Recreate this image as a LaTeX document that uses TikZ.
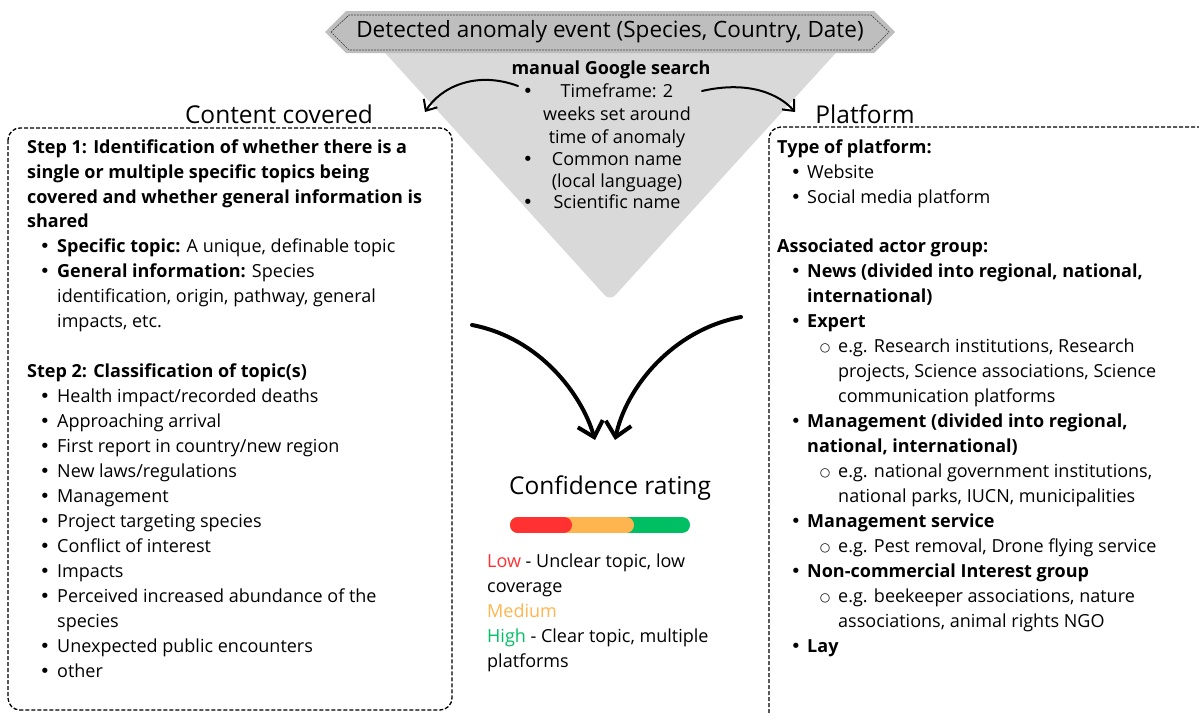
\documentclass[tikz,border=0pt]{standalone}
\usepackage{fontspec}
\setmainfont{Open Sans}
\newfontfamily\symfont{DejaVu Sans}
\usetikzlibrary{arrows.meta}

\definecolor{bannergray}{HTML}{BEBEBE}
\definecolor{funnelgray}{HTML}{D9D9D9}
\definecolor{lowred}{HTML}{FF3131}
\definecolor{medorange}{HTML}{FFB54F}
\definecolor{highgreen}{HTML}{00BF63}

\def\bodysize{\fontsize{18}{25}\selectfont}
\def\titlesize{\fontsize{24.5}{28}\selectfont}
\def\bannersize{\fontsize{22.5}{26}\selectfont}

\def\bannershape{(325,32) -- (346,11) -- (874,11) -- (895,32) -- (874,53) -- (346,53) -- cycle}
\def\bannerinner{(331,32) -- (349,15) -- (871,15) -- (889,32) -- (871,50) -- (349,50) -- cycle}

\tikzset{
  line/.style={anchor=base west, inner sep=0pt, font=\bodysize},
  mid/.style={anchor=base, inner sep=0pt, font=\bodysize},
  dot/.style={anchor=base, inner sep=0pt, font=\bodysize\symfont},
  title/.style={anchor=base, inner sep=0pt, font=\titlesize},
  dashbox/.style={draw, line width=1.3pt, rounded corners=12pt, dash pattern=on 4pt off 2pt},
  thinarrow/.style={-{Straight Barb[length=9pt,width=16pt,line width=2pt]}, line width=2pt, line cap=round},
  bigarrow/.style={-{Straight Barb[length=14pt,width=26pt,line width=4pt]}, line width=4pt, line cap=round},
  bar/.style={line width=16pt, line cap=round},
}

\begin{document}
\begin{tikzpicture}[x=1pt,y=-1pt]
  \useasboundingbox (0,0) rectangle (1199,712);
  \clip (0,0) rectangle (1199,712);

  % funnel and banner
  \fill[funnelgray, rounded corners=8pt] (378,45) -- (843,45) -- (610,301) -- cycle;
  \fill[bannergray] \bannershape;
  \draw[black!75, line width=0.6pt, dash pattern=on 2pt off 1pt] \bannerinner;
  \node[font=\bannersize, inner sep=0pt] (event) at (610,32) {Detected anomaly event (Species, Country, Date)};

  % search terms
  \node[mid] (search) at (611,74) {\textbf{manual Google search}};
  \node[mid] (tf1) at (617,97) {Timeframe: 2};
  \node[mid] (tf2) at (617,120) {weeks set around};
  \node[mid] (tf3) at (617,143) {time of anomaly};
  \node[mid] (cn1) at (617,165) {Common name};
  \node[mid] (cn2) at (617,187) {(local language)};
  \node[mid] (sn) at (617,208) {Scientific name};
  \node[dot] (b1) at (528,97) {•};
  \node[dot] (b2) at (528,165) {•};
  \node[dot] (b3) at (528,208) {•};

  % titles
  \node[title] (content) at (279,123) {Content covered};
  \node[title] (platform) at (865,123) {Platform};

  \coordinate (lstart) at (518,86);
  \coordinate (lend) at (425,112);
  \coordinate (rstart) at (702,91);
  \coordinate (rend) at (795,112);
  \draw[thinarrow] (lstart) .. controls (475,70) and (440,88) .. (lend);
  \draw[thinarrow] (rstart) .. controls (750,80) and (780,95) .. (rend);

  % boxes
  \draw[dashbox] (8,128) rectangle (452,710);
  \draw[dashbox] (769,127) rectangle (1215,730);

  % content covered
  \node[line] (s1a) at (27,153) {\textbf{Step 1: Identification of whether there is a}};
  \node[line] (s1b) at (27,178) {\textbf{single or multiple specific topics being}};
  \node[line] (s1c) at (27,203) {\textbf{covered and whether general information is}};
  \node[line] (s1d) at (27,227) {\textbf{shared}};
  \node[dot] (d1) at (45,252) {•};
  \node[line] (spec) at (57,252) {\textbf{Specific topic:} A unique, definable topic};
  \node[dot] (d2) at (45,277) {•};
  \node[line] (gen1) at (57,277) {\textbf{General information:} Species};
  \node[line] (gen2) at (57,302) {identification, origin, pathway, general};
  \node[line] (gen3) at (57,327) {impacts, etc.};
  \node[line] (s2) at (27,377) {\textbf{Step 2: Classification of topic(s)}};
  \foreach \txt [count=\i] in {Health impact/recorded deaths, Approaching arrival,
      First report in country/new region, New laws/regulations, Management,
      Project targeting species, Conflict of interest, Impacts,
      Perceived increased abundance of the}
    \node[line] (topic\i) at (57,377+25*\i) {\txt};
  \node[line] (topic10) at (57,627) {species};
  \node[line] (topic11) at (57,652) {Unexpected public encounters};
  \node[line] (topic12) at (57,677) {other};
  \foreach \i in {1,...,9,11,12}
    \node[dot] (tdot\i) at (45,377+25*\i) {•};

  % platform
  \node[line] (type) at (777,153) {\textbf{Type of platform:}};
  \node[line] (web) at (807,178) {Website};
  \node[line] (soc) at (807,203) {Social media platform};
  \node[line] (actor) at (777,252) {\textbf{Associated actor group:}};
  \node[line] (news1) at (807,277) {\textbf{News (divided into regional, national,}};
  \node[line] (news2) at (807,302) {\textbf{international)}};
  \node[line] (exp) at (807,327) {\textbf{Expert}};
  \node[line] (exp1) at (838,352) {e.g. Research institutions, Research};
  \node[line] (exp2) at (838,377) {projects, Science associations, Science};
  \node[line] (exp3) at (838,402) {communication platforms};
  \node[line] (man1) at (807,427) {\textbf{Management (divided into regional,}};
  \node[line] (man2) at (807,452) {\textbf{national, international)}};
  \node[line] (man3) at (838,477) {e.g. national government institutions,};
  \node[line] (man4) at (838,502) {national parks, IUCN, municipalities};
  \node[line] (serv) at (807,527) {\textbf{Management service}};
  \node[line] (serv1) at (838,552) {e.g. Pest removal, Drone flying service};
  \node[line] (nci) at (807,577) {\textbf{Non-commercial Interest group}};
  \node[line] (nci1) at (838,602) {e.g. beekeeper associations, nature};
  \node[line] (nci2) at (838,627) {associations, animal rights NGO};
  \node[line] (lay) at (807,652) {\textbf{Lay}};
  \foreach \y in {178,203,277,327,427,527,577,652}
    \node[dot] at (796,\y) {•};
  \foreach \y in {352,477,552,602}
    \node[dot, font=\fontsize{12}{12}\selectfont\symfont] at (825,\y-1) {○};

  % confidence rating
  \coordinate (lfrom) at (472,325);
  \coordinate (lto) at (595,440);
  \coordinate (rfrom) at (741,317);
  \coordinate (rto) at (615,440);
  \draw[bigarrow] (lfrom) .. controls (540,338) and (582,395) .. (lto);
  \draw[bigarrow] (rfrom) .. controls (672,330) and (626,388) .. (rto);

  \node[title] (rating) at (610,494) {Confidence rating};
  \draw[bar, highgreen] (518,525) -- (682,525);
  \draw[bar, medorange] (518,525) -- (626,525);
  \draw[bar, lowred] (518,525) -- (564,525);

  \node[line] (low1) at (487,567) {\textcolor{lowred}{Low} - Unclear topic, low};
  \node[line] (low2) at (487,592) {coverage};
  \node[line] (med) at (487,617) {\textcolor{medorange}{Medium}};
  \node[line] (high1) at (487,642) {\textcolor{highgreen}{High} - Clear topic, multiple};
  \node[line] (high2) at (487,667) {platforms};
\end{tikzpicture}
\end{document}
